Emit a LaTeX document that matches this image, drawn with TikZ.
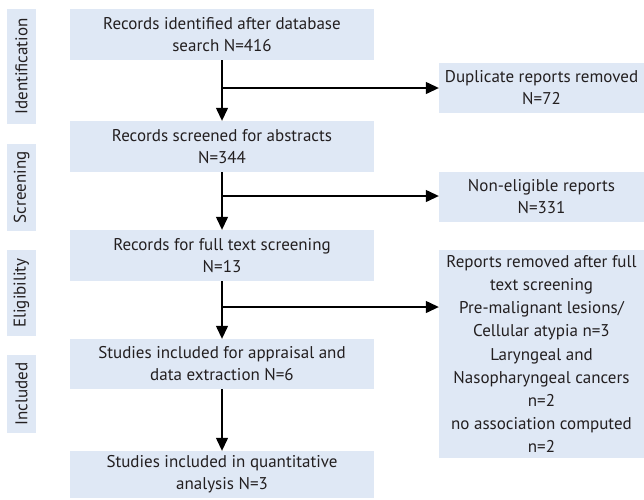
\documentclass[tikz,border=0pt]{standalone}
\usepackage{fontspec}
\setmainfont{PT Sans}
\usetikzlibrary{arrows.meta}
\usetikzlibrary{positioning}
\definecolor{boxfill}{HTML}{DFE8F5}
\definecolor{ink}{HTML}{231F20}
\tikzset{stage/.style = {fill = boxfill, inner sep = 0, align = center, text = ink, font = \fontsize{17}{22}\selectfont}}
\tikzset{phase/.style = {stage, rotate = 90, minimum height = 29pt}}
\tikzset{flow/.style = {-{Triangle[length = 13pt, width = 12pt]}, line width = 1.3pt}}

\begin{document}
\begin{tikzpicture}[x = 1pt, y = -1pt]
  \useasboundingbox (0, 0) rectangle (644, 499);

  % phases
  \node [phase, minimum width = 115pt] (p1) at (21.5, 66.5) {Identification};
  \node [phase, minimum width = 87pt] (p2) at (21.5, 187.5) {Screening};
  \node [phase, minimum width = 86pt] (p3) at (21.5, 293) {Eligibility};
  \node [phase, minimum width = 78pt] (p4) at (21.5, 394) {Included};

  % main column
  \node [stage, minimum width = 304pt, minimum height = 51pt] (b1) at (222, 34.5) {Records identified after database\\search N=416};
  \node [stage, minimum width = 304pt, minimum height = 51pt] (b2) at (222, 146.5) {Records screened for abstracts\\N=344};
  \node [stage, minimum width = 304pt, minimum height = 51pt] (b3) at (222, 255.5) {Records for full text screening\\N=13};
  \node [stage, minimum width = 304pt, minimum height = 50pt] (b4) at (222, 364) {Studies included for appraisal and\\data extraction N=6};
  \node [stage, minimum width = 304pt, minimum height = 47pt] (b5) at (222, 474.5) {Studies included in quantitative\\analysis N=3};

  % removed
  \node [stage, minimum width = 205pt, minimum height = 50pt] (r1) at (541.5, 88) {Duplicate reports removed\\N=72};
  \node [stage, minimum width = 205pt, minimum height = 50pt] (r2) at (541.5, 197) {Non-eligible reports\\N=331};
  \node [stage, minimum width = 205pt, minimum height = 208pt, font = \fontsize{17}{23.2}\selectfont] (r3) at (541.5, 354) {Reports removed after full\\text screening\\Pre-malignant lesions/\\Cellular atypia n=3\\Laryngeal and\\Nasopharyngeal cancers\\n=2\\no association computed\\n=2};

  \coordinate (j1) at (222, 88);
  \coordinate (j2) at (222, 196);
  \coordinate (j3) at (222, 307);

  \draw [flow] (b1) -- (b2);
  \draw [flow] (b2) -- (b3);
  \draw [flow] (b3) -- (b4);
  \draw [flow] (b4) -- (b5);

  \draw [flow] (j1) -- (j1 -| r1.west);
  \draw [flow] (j2) -- (j2 -| r2.west);
  \draw [flow] (j3) -- (j3 -| r3.west);
\end{tikzpicture}
\end{document}
